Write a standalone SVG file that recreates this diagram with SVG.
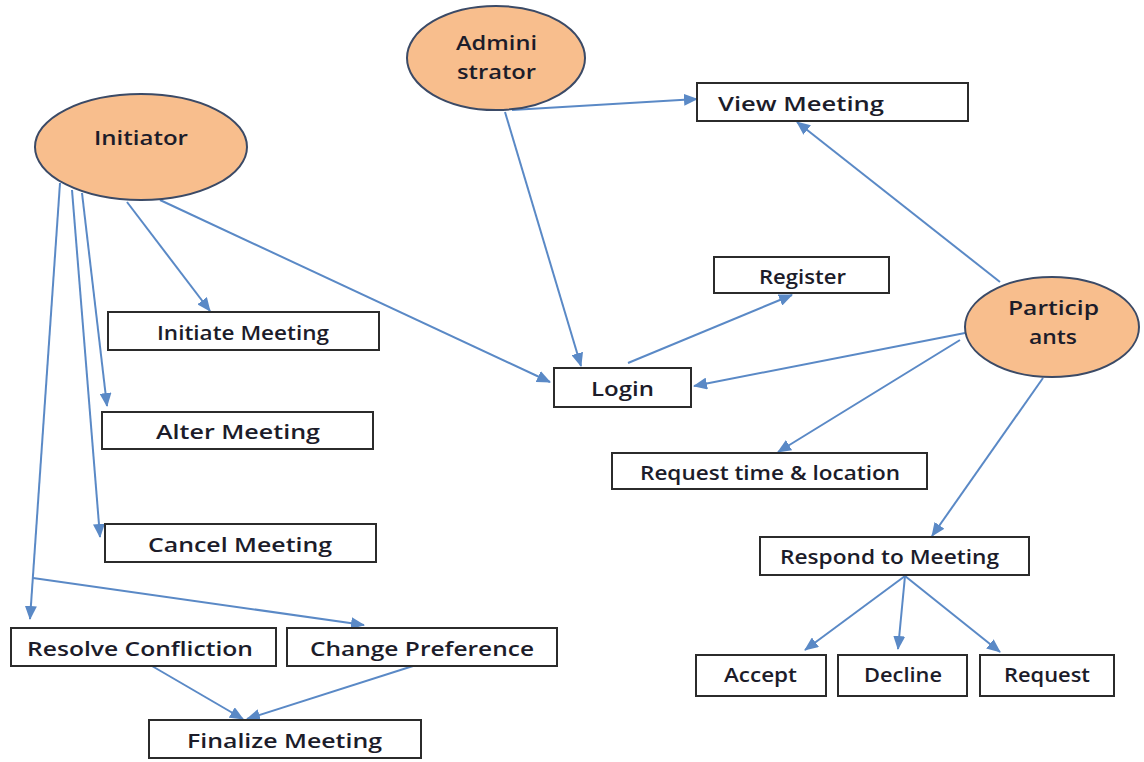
<svg xmlns="http://www.w3.org/2000/svg" width="1144" height="762" viewBox="0 0 1144 762">
<style>
.bg{fill:#ffffff}
.actor{fill:#F8BE8D;stroke:#3B4A66;stroke-width:2}
.box{fill:#ffffff;stroke:#2b2b2b;stroke-width:2}
.t{font-family:"Open Sans","Liberation Sans",sans-serif;font-weight:600;font-size:20px;fill:#1c1c2a;text-anchor:middle;dominant-baseline:central}
.c line{stroke:#5A89C6;stroke-width:2;fill:none}
.a{marker-end:url(#ah)}
</style>
<defs>
<marker id="ah" markerUnits="userSpaceOnUse" markerWidth="14" markerHeight="12" refX="13" refY="6" orient="auto">
<path d="M0,0 L14,6 L0,12 z" fill="#5A89C6"/>
</marker>
</defs>
<rect class="bg" x="0" y="0" width="1144" height="762"/>

<g id="connectors" class="c">
<line class="a" x1="127" y1="202" x2="210" y2="311"/>
<line class="a" x1="160" y1="200" x2="550" y2="382"/>
<line class="a" x1="60" y1="183" x2="30" y2="619"/>
<line class="a" x1="72" y1="190" x2="100" y2="537"/>
<line class="a" x1="82" y1="193" x2="107" y2="406"/>
<line class="a" x1="33" y1="578" x2="364" y2="625"/>
<line class="a" x1="152" y1="666" x2="243" y2="719"/>
<line class="a" x1="413" y1="666" x2="247" y2="719"/>
<line class="a" x1="512" y1="110" x2="697" y2="99"/>
<line class="a" x1="505" y1="112" x2="581" y2="366"/>
<line class="a" x1="628" y1="363" x2="792" y2="295"/>
<line class="a" x1="1000" y1="282" x2="797" y2="122"/>
<line class="a" x1="965" y1="333" x2="694" y2="386"/>
<line class="a" x1="960" y1="340" x2="778" y2="452"/>
<line class="a" x1="1043" y1="378" x2="932" y2="536"/>
<line class="a" x1="905" y1="576" x2="805" y2="650"/>
<line class="a" x1="905" y1="576" x2="898" y2="649"/>
<line class="a" x1="905" y1="576" x2="1000" y2="652"/>
</g>

<g id="initiator">
<ellipse class="actor" cx="141" cy="147" rx="106" ry="53"/>
<text class="t" x="141" y="137" textLength="94" lengthAdjust="spacingAndGlyphs">Initiator</text>
</g>
<g id="administrator">
<ellipse class="actor" cx="496" cy="58" rx="89" ry="52"/>
<text class="t" x="496.5" y="42" textLength="81" lengthAdjust="spacingAndGlyphs">Admini</text>
<text class="t" x="496.5" y="71" textLength="79" lengthAdjust="spacingAndGlyphs">strator</text>
</g>
<g id="participants">
<ellipse class="actor" cx="1052" cy="327" rx="87" ry="50"/>
<text class="t" x="1053.5" y="307" textLength="91" lengthAdjust="spacingAndGlyphs">Particip</text>
<text class="t" x="1053" y="336" textLength="48" lengthAdjust="spacingAndGlyphs">ants</text>
</g>

<g id="initiate-meeting">
<rect class="box" x="108" y="312" width="271" height="38"/>
<text class="t" x="243" y="332" textLength="172" lengthAdjust="spacingAndGlyphs">Initiate Meeting</text>
</g>
<g id="alter-meeting">
<rect class="box" x="102" y="412" width="271" height="37"/>
<text class="t" x="238" y="431" textLength="164" lengthAdjust="spacingAndGlyphs">Alter Meeting</text>
</g>
<g id="cancel-meeting">
<rect class="box" x="105" y="524" width="271" height="38"/>
<text class="t" x="240" y="544" textLength="184" lengthAdjust="spacingAndGlyphs">Cancel Meeting</text>
</g>
<g id="resolve-confliction">
<rect class="box" x="11" y="628" width="265" height="38"/>
<text class="t" x="140" y="648" textLength="226" lengthAdjust="spacingAndGlyphs">Resolve Confliction</text>
</g>
<g id="change-preference">
<rect class="box" x="287" y="628" width="270" height="38"/>
<text class="t" x="422" y="648" textLength="224" lengthAdjust="spacingAndGlyphs">Change Preference</text>
</g>
<g id="finalize-meeting">
<rect class="box" x="149" y="720" width="272" height="38"/>
<text class="t" x="284.5" y="740" textLength="195" lengthAdjust="spacingAndGlyphs">Finalize Meeting</text>
</g>
<g id="view-meeting">
<rect class="box" x="697" y="83" width="271" height="38"/>
<text class="t" x="718" y="103" style="text-anchor:start" textLength="166" lengthAdjust="spacingAndGlyphs">View Meeting</text>
</g>
<g id="register">
<rect class="box" x="714" y="257" width="175" height="36"/>
<text class="t" x="802.5" y="276" textLength="87" lengthAdjust="spacingAndGlyphs">Register</text>
</g>
<g id="login">
<rect class="box" x="554" y="368" width="137" height="39"/>
<text class="t" x="622.5" y="388" textLength="63" lengthAdjust="spacingAndGlyphs">Login</text>
</g>
<g id="request-time-location">
<rect class="box" x="612" y="453" width="315" height="36"/>
<text class="t" x="770" y="472" textLength="260" lengthAdjust="spacingAndGlyphs">Request time &amp; location</text>
</g>
<g id="respond-to-meeting">
<rect class="box" x="760" y="537" width="269" height="38"/>
<text class="t" x="889.5" y="556" textLength="219" lengthAdjust="spacingAndGlyphs">Respond to Meeting</text>
</g>
<g id="accept">
<rect class="box" x="696" y="655" width="130" height="41"/>
<text class="t" x="760.5" y="674" textLength="73" lengthAdjust="spacingAndGlyphs">Accept</text>
</g>
<g id="decline">
<rect class="box" x="838" y="655" width="129" height="41"/>
<text class="t" x="903" y="674" textLength="78" lengthAdjust="spacingAndGlyphs">Decline</text>
</g>
<g id="request">
<rect class="box" x="980" y="655" width="134" height="41"/>
<text class="t" x="1047" y="674" textLength="86" lengthAdjust="spacingAndGlyphs">Request</text>
</g>
</svg>
